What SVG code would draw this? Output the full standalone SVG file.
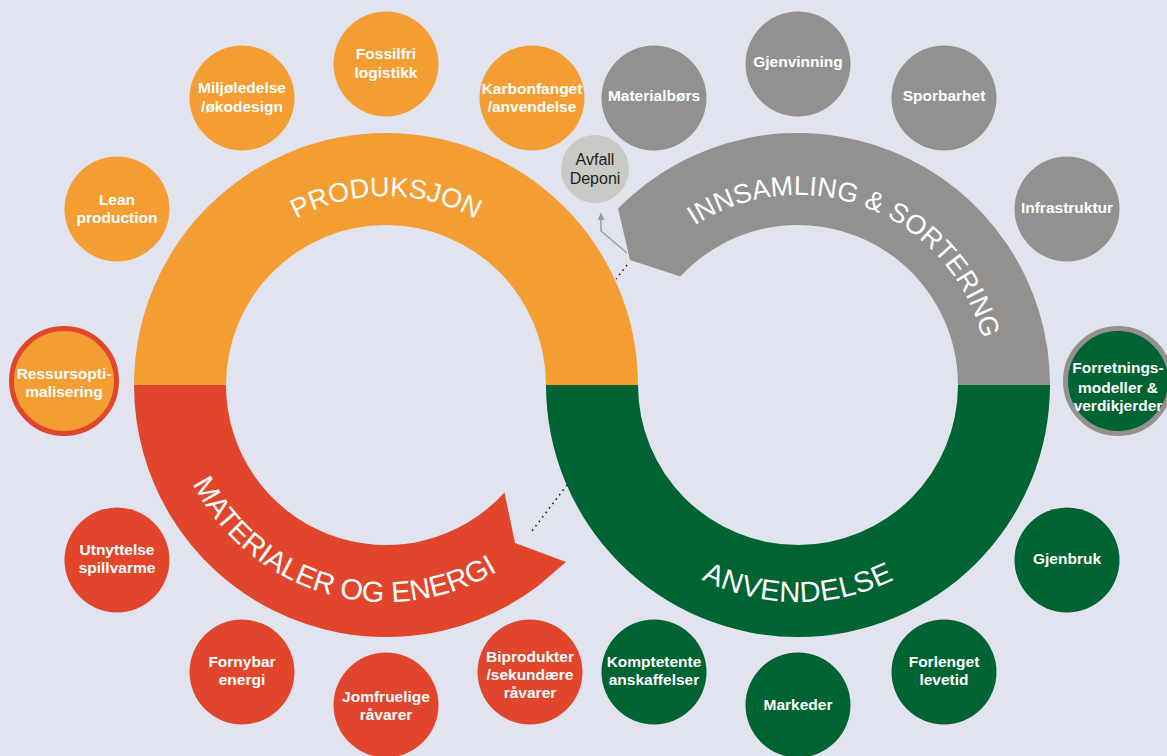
<svg xmlns="http://www.w3.org/2000/svg" width="1167" height="756" viewBox="0 0 1167 756">
<style>
.bg{fill:#E1E4EF}
.or{fill:#F39D32}
.rd{fill:#E1462C}
.gn{fill:#006332}
.gy{fill:#93918F}
.lbl{font-family:"Liberation Sans",Arial,sans-serif;font-weight:bold;font-size:15.5px;fill:#fff;text-anchor:middle}
.ring{font-family:"Liberation Sans",Arial,sans-serif;font-size:27px;fill:#fff}
.dot{fill:none;stroke:#222;stroke-width:1.6;stroke-dasharray:1.6 4}
</style>
<defs>
<marker id="ah" viewBox="0 0 10 10" refX="9" refY="5" markerWidth="8" markerHeight="7" markerUnits="userSpaceOnUse" orient="auto"><path d="M0,0 L10,5 L0,10 z" fill="#9B9B9B"/></marker>
<path id="pProd" d="M197,385 A189,189 0 0 1 575,385"/>
<path id="pInn" d="M694.5,225.6 A190,190 0 0 1 976.5,450"/>
<path id="pMat" d="M176.4,328.8 A217,217 0 0 0 593.5,448.5"/>
<path id="pAnv" d="M584.3,422.7 A217,217 0 0 0 1011.7,422.7"/>
</defs>
<rect class="bg" x="0" y="0" width="1167" height="756"/>

<g id="ring-produksjon">
<path class="or" d="M134,385 A252,252 0 0 1 638,385 L546,385 A160,160 0 0 0 226,385 Z"/>
<text class="ring"><textPath href="#pProd" startOffset="50%" text-anchor="middle">PRODUKSJON</textPath></text>
</g>
<g id="ring-materialer">
<path class="rd" d="M134,385 A252,252 0 0 0 537.7,586.3 L566,562 L515,543 L504.5,492.5 A160,160 0 0 1 226,385 Z"/>
<text class="ring" style="font-size:29px"><textPath href="#pMat" startOffset="50%" text-anchor="middle">MATERIALER OG ENERGI</textPath></text>
</g>
<g id="ring-anvendelse">
<path class="gn" d="M546,385 A252,252 0 0 0 1050,385 L958,385 A160,160 0 0 1 638,385 Z"/>
<text class="ring" style="font-size:29px;letter-spacing:0.5px"><textPath href="#pAnv" startOffset="50%" text-anchor="middle">ANVENDELSE</textPath></text>
</g>
<g id="ring-innsamling">
<path class="gy" d="M1050,385 A252,252 0 0 0 618,208.6 L630,260 L680.4,276.5 A160,160 0 0 1 958,385 Z"/>
<text class="ring"><textPath href="#pInn">INNSAMLING &amp; SORTERING</textPath></text>
</g>

<g id="connectors">
<path class="dot" d="M627,265 L616,279"/>
<path class="dot" d="M567,485 L532,531"/>
<polyline points="627,253 601,231 601,213.5" fill="none" stroke="#9B9B9B" stroke-width="1.5" marker-end="url(#ah)"/>
</g>

<g id="avfall-deponi">
<circle cx="595" cy="169" r="34" fill="#C9C9C5"/>
<text x="595" y="165" style="font-family:'Liberation Sans',Arial,sans-serif;font-size:16px;fill:#1E1E1E;text-anchor:middle">Avfall</text>
<text x="595" y="183.5" style="font-family:'Liberation Sans',Arial,sans-serif;font-size:16px;fill:#1E1E1E;text-anchor:middle">Deponi</text>
</g>

<g id="lean-production"><circle class="or" cx="117" cy="209" r="52.5"/><text class="lbl" x="117" y="205">Lean</text><text class="lbl" x="117" y="223">production</text></g>
<g id="miljoledelse"><circle class="or" cx="242" cy="98" r="52.5"/><text class="lbl" x="242" y="93">Miljøledelse</text><text class="lbl" x="242" y="112">/økodesign</text></g>
<g id="fossilfri-logistikk"><circle class="or" cx="386" cy="64" r="52.5"/><text class="lbl" x="386" y="58.5">Fossilfri</text><text class="lbl" x="386" y="77.5">logistikk</text></g>
<g id="karbonfanget"><circle class="or" cx="532" cy="98" r="52.5"/><text class="lbl" x="532" y="93.5">Karbonfanget</text><text class="lbl" x="532" y="112">/anvendelse</text></g>
<g id="ressursoptimalisering"><circle class="or" cx="64" cy="381" r="52.5" stroke="#E1462C" stroke-width="5"/><text class="lbl" x="64" y="379">Ressursopti-</text><text class="lbl" x="64" y="397">malisering</text></g>

<g id="utnyttelse-spillvarme"><circle class="rd" cx="117" cy="560" r="52.5"/><text class="lbl" x="117" y="555">Utnyttelse</text><text class="lbl" x="117" y="573">spillvarme</text></g>
<g id="fornybar-energi"><circle class="rd" cx="242" cy="672" r="52.5"/><text class="lbl" x="242" y="667">Fornybar</text><text class="lbl" x="242" y="685">energi</text></g>
<g id="jomfruelige-ravarer"><circle class="rd" cx="386" cy="705" r="52.5"/><text class="lbl" x="386" y="702">Jomfruelige</text><text class="lbl" x="386" y="720">råvarer</text></g>
<g id="biprodukter"><circle class="rd" cx="530" cy="672" r="52.5"/><text class="lbl" x="530" y="662">Biprodukter</text><text class="lbl" x="530" y="680">/sekundære</text><text class="lbl" x="530" y="698">råvarer</text></g>

<g id="materialbors"><circle class="gy" cx="654" cy="98" r="52.5"/><text class="lbl" x="654" y="101">Materialbørs</text></g>
<g id="gjenvinning"><circle class="gy" cx="798" cy="64" r="52.5"/><text class="lbl" x="798" y="67">Gjenvinning</text></g>
<g id="sporbarhet"><circle class="gy" cx="944" cy="98" r="52.5"/><text class="lbl" x="944" y="101">Sporbarhet</text></g>
<g id="infrastruktur"><circle class="gy" cx="1067" cy="209" r="52.5"/><text class="lbl" x="1067" y="213">Infrastruktur</text></g>
<g id="forretningsmodeller"><circle class="gn" cx="1118" cy="381" r="52.5" stroke="#93918F" stroke-width="5"/><text class="lbl" x="1118" y="373">Forretnings-</text><text class="lbl" x="1118" y="392.5">modeller &amp;</text><text class="lbl" x="1118" y="411">verdikjerder</text></g>

<g id="gjenbruk"><circle class="gn" cx="1067" cy="560" r="52.5"/><text class="lbl" x="1067" y="564">Gjenbruk</text></g>
<g id="forlenget-levetid"><circle class="gn" cx="944" cy="672" r="52.5"/><text class="lbl" x="944" y="667">Forlenget</text><text class="lbl" x="944" y="685">levetid</text></g>
<g id="markeder"><circle class="gn" cx="798" cy="705" r="52.5"/><text class="lbl" x="798" y="710">Markeder</text></g>
<g id="komptetente-anskaffelser"><circle class="gn" cx="654" cy="672" r="52.5"/><text class="lbl" x="654" y="667">Komptetente</text><text class="lbl" x="654" y="685">anskaffelser</text></g>
</svg>
